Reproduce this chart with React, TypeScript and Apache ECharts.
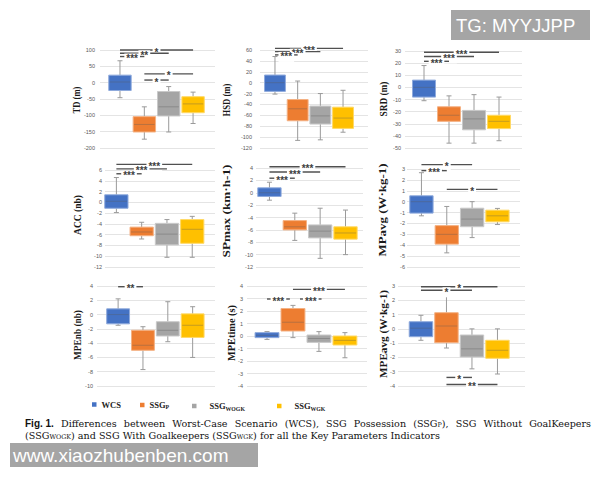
import React, { useEffect, useRef } from 'react';
import * as echarts from 'echarts';

// Groups compared in every panel
const groups = ['WCS', 'SSGP', 'SSGWOGK', 'SSGWGK'];
const legendMain = ['WCS', 'SSG', 'SSG', 'SSG'];
const legendSub = ['', 'P', 'WOGK', 'WGK'];
const groupColors = ['#4472C4', '#ED7D31', '#A5A5A5', '#FFC000'];
const groupEdges = ['#8FAADC', '#F4B183', '#C9C9C9', '#FFD966'];

// Box statistics per group: [min, Q1, median, Q3, max]
const tdBox = [[-46, -24, 2, 23, 67], [-173, -151, -128, -104, -74], [-151, -102, -74, -27, -12], [-125, -92, -65, -43, -29]];
const hsdBox = [[-21, -16, 0, 14, 48], [-106, -70, -48, -31, 3], [-105, -76, -61, -43, -20], [-91, -84, -65, -45, -14]];
const srdBox = [[-11, -8, 0, 6, 18], [-46, -28, -23, -16, -7], [-46, -35, -26, -19, -6], [-44, -34, -28, -23, -8]];
const accBox = [[-1.9, -1.1, 0.2, 1.4, 4.6], [-6.8, -6.2, -5.5, -4.6, -3.7], [-10.2, -7.9, -5.9, -3.9, -3.2], [-10.2, -7.6, -5, -3.2, -2.6]];
const spmaxBox = [[-1.2, -0.6, 0, 0.8, 1.7], [-7.7, -6, -5.5, -4.5, -3.3], [-10.6, -7.3, -6.2, -5.2, -2.5], [-10, -7.5, -6.5, -5.5, -2.8]];
const mpavgBox = [[-1.3, -1.05, 0, 0.54, 2.66], [-4.7, -3.9, -3, -2.2, -0.44], [-3.3, -2.3, -1.6, -0.6, 0], [-2.1, -1.85, -1.3, -0.78, -0.62]];
const mpenbBox = [[-1.5, -1.3, 0, 0.8, 2.2], [-7.7, -5, -4.3, -2.2, -1.7], [-3.8, -3, -2.2, -1, 1.8], [-6, -3.2, -1.5, 0.1, 1.1]];
const mpetimeBox = [[-0.27, -0.13, 0.05, 0.27, 0.35], [-0.13, 0.4, 1.1, 2.2, 2.45], [-1.23, -0.51, -0.2, 0.08, 0.35], [-1.74, -0.72, -0.35, 0, 0.27]];
const mpeavgBox = [[-0.8, -0.55, 0.05, 0.5, 0.95], [-1.34, -0.97, 0.2, 1.13, 2.42], [-2.8, -1.97, -1.4, -0.43, 0], [-3.16, -2.06, -1.5, -0.8, 0]];

// Significance brackets: [from group, to group, y level, stars]
const tdSig: [number, number, number, string][] = [[0, 3, 100, '*'], [0, 2, 90, '**'], [0, 1, 80, '***'], [1, 3, 27, '*'], [1, 2, 8, '*']];
const hsdSig: [number, number, number, string][] = [[0, 3, 63, '***'], [0, 2, 57, '***'], [0, 1, 51, '***']];
const srdSig: [number, number, number, string][] = [[0, 3, 29, '***'], [0, 2, 25.5, '***'], [0, 1, 21.5, '***']];
const accSig: [number, number, number, string][] = [[0, 3, 7.05, '***'], [0, 2, 6.2, '***'], [0, 1, 5.3, '***']];
const spmaxSig: [number, number, number, string][] = [[0, 3, 4.2, '***'], [0, 2, 3.35, '***'], [0, 1, 2.35, '***']];
const mpavgSig: [number, number, number, string][] = [[0, 2, 3.4, '*'], [0, 1, 2.85, '***'], [1, 3, 1.13, '*']];
const mpenbSig: [number, number, number, string][] = [[0, 1, 3.9, '**']];
const mpetimeSig: [number, number, number, string][] = [[1, 3, 3.73, '***'], [0, 0.88, 2.96, '***'], [1.27, 2.1, 2.96, '***']];
const mpeavgSig: [number, number, number, string][] = [[0, 3, 2.95, '*'], [0, 2, 2.7, '*'], [1, 2, -3.4, '*'], [1, 3, -3.9, '**']];

// Axis titles and value ranges
const axisTitles = ['TD (m)', 'HSD (m)', 'SRD (m)', 'ACC (nb)', 'SPmax (km·h-1)', 'MPavg (W·kg-1)', 'MPEnb (nb)', 'MPEtime (s)', 'MPEavg (W·kg-1)'];
const yMins = [-200, -120, -50, -12, -12, -6, -10, -4, -4];
const yMaxs = [100, 60, 30, 6, 4, 3, 4, 4, 3];
const yIntervals = [50, 20, 10, 2, 2, 1, 2, 1, 1];
const boxSets = [tdBox, hsdBox, srdBox, accBox, spmaxBox, mpavgBox, mpenbBox, mpetimeBox, mpeavgBox];
const sigSets = [tdSig, hsdSig, srdSig, accSig, spmaxSig, mpavgSig, mpenbSig, mpetimeSig, mpeavgSig];

// Caption words ("_" starts a subscript)
const captionLine1 = ['Fig. 1.', 'Differences', 'between', 'Worst-Case', 'Scenario', '(WCS),', 'SSG', 'Possession', '(SSG_P),', 'SSG', 'Without', 'GoalKeepers'];
const captionLine2 = ['(SSG_WOGK)', 'and', 'SSG', 'With', 'Goalkeepers', '(SSG_WGK)', 'for', 'all', 'the', 'Key', 'Parameters', 'Indicators'];

// Panel placement (pixels) and horizontal extent of each plot in group units;
// titleLen is the drawn length of the rotated axis title
const panelLayout = [
  { left: 100, width: 115, top: 50, height: 98, xMin: -0.82, xMax: 3.9, labelGap: 5, titleX: 77, titleY: 100, titleLen: 27 },
  { left: 260, width: 108, top: 50, height: 98, xMin: -0.66, xMax: 4.1, labelGap: 8, titleX: 227, titleY: 100, titleLen: 33 },
  { left: 405, width: 117, top: 51, height: 97, xMin: -0.76, xMax: 3.92, labelGap: 4, titleX: 383, titleY: 99, titleLen: 35 },
  { left: 105, width: 110, top: 170, height: 97, xMin: -0.45, xMax: 3.9, labelGap: 3, titleX: 77, titleY: 215, titleLen: 40 },
  { left: 256, width: 107, top: 168, height: 99, xMin: -0.53, xMax: 3.69, labelGap: 3, titleX: 227, titleY: 211, titleLen: 93 },
  { left: 407, width: 113, top: 169, height: 98, xMin: -0.57, xMax: 3.89, labelGap: 2, titleX: 383, titleY: 210, titleLen: 93 },
  { left: 97, width: 118, top: 286, height: 100, xMin: -0.85, xMax: 3.9, labelGap: 4, titleX: 77, titleY: 335, titleLen: 50 },
  { left: 247, width: 120, top: 286, height: 100, xMin: -0.77, xMax: 3.85, labelGap: 4, titleX: 232, titleY: 333, titleLen: 56 },
  { left: 398, width: 127, top: 286, height: 100, xMin: -0.9, xMax: 4.08, labelGap: 3, titleX: 384, titleY: 334, titleLen: 88 },
];
const legendLeft = [92, 140, 192, 277];
const legendTextPad = [0, 0, 8, 8];

const BOX_WIDTH = 0.92;
const TITLE_FONT = 'bold 10px Liberation Serif';
const CAP_FONT = '9.6px DejaVu Serif';
const CAP_SUB_FONT = '6.4px DejaVu Serif';
const CAP_BOLD_FONT = 'bold 10px Liberation Sans';
const CAP_LEFT = 25;
const CAP_RIGHT = 591;

function measure(text: string, font: string): number {
  const ctx = document.createElement('canvas').getContext('2d');
  if (!ctx) return text.length * 4.5;
  ctx.font = font;
  return ctx.measureText(text).width;
}

// Turns a caption word into rich-text markup and reports its width
function captionWord(word: string, bold: boolean): { text: string; width: number } {
  if (bold) return { text: `{b|${word}}`, width: measure(word, CAP_BOLD_FONT) };
  const m = word.match(/^(.*?)_([A-Z]+)(.*)$/);
  if (!m) return { text: `{r|${word}}`, width: measure(word, CAP_FONT) };
  const [, pre, sub, post] = m;
  return {
    text: `{r|${pre}}{s|${sub}}` + (post ? `{r|${post}}` : ''),
    width: measure(pre, CAP_FONT) + measure(sub, CAP_SUB_FONT) + (post ? measure(post, CAP_FONT) : 0),
  };
}

function captionText(words: string[], justify: boolean): { text: string; gap: number } {
  const parts = words.map((w, k) => captionWord(w, k === 0 && w.startsWith('Fig.')));
  const used = parts.reduce((acc, p) => acc + p.width, 0);
  const natural = measure(' ', CAP_FONT);
  const gap = justify ? (CAP_RIGHT - CAP_LEFT - used) / (parts.length - 1) : natural;
  return { text: parts.map((p) => p.text).join('{g|}'), gap };
}

function buildOption(): echarts.EChartsOption {
  const grid: any[] = [];
  const xAxis: any[] = [];
  const yAxis: any[] = [];
  const series: any[] = [];
  const graphic: any[] = [];

  panelLayout.forEach((p, i) => {
    grid.push({ left: p.left, top: p.top, width: p.width, height: p.height, containLabel: false });
    xAxis.push({
      type: 'value', gridIndex: i, min: p.xMin, max: p.xMax,
      show: false, splitLine: { show: false },
    });
    yAxis.push({
      type: 'value', gridIndex: i, min: yMins[i], max: yMaxs[i], interval: yIntervals[i],
      axisLine: { show: false }, axisTick: { show: false },
      splitLine: { lineStyle: { color: '#e4e4e4', width: 1 } },
      axisLabel: { fontSize: 5.5, color: '#595959', margin: p.labelGap, fontFamily: 'Liberation Sans' },
    });

    // rotated axis title, stretched along its reading direction
    const natural = measure(axisTitles[i], TITLE_FONT);
    graphic.push({
      type: 'text', x: p.titleX, y: p.titleY, rotation: Math.PI / 2,
      scaleX: p.titleLen / natural, scaleY: 1,
      style: { text: axisTitles[i], font: TITLE_FONT, fill: '#1a1a1a', align: 'center', verticalAlign: 'middle' },
    });

    groups.forEach((g, gi) => {
      const s = boxSets[i][gi];
      series.push({
        type: 'custom', name: g, xAxisIndex: i, yAxisIndex: i,
        itemStyle: { color: groupColors[gi] },
        data: [[gi, ...s]],
        renderItem: (_params: any, api: any) => {
          const x = api.value(0);
          const vMin = api.coord([x, api.value(1)]);
          const vQ1 = api.coord([x, api.value(2)]);
          const vMed = api.coord([x, api.value(3)]);
          const vQ3 = api.coord([x, api.value(4)]);
          const vMax = api.coord([x, api.value(5)]);
          const w = api.size([BOX_WIDTH, 0])[0];
          const cx = vMin[0];
          const cap = 2.5;
          const whisker = { stroke: '#9a9a9a', lineWidth: 1 };
          return {
            type: 'group',
            children: [
              { type: 'line', shape: { x1: cx, y1: vMax[1], x2: cx, y2: vQ3[1] }, style: whisker },
              { type: 'line', shape: { x1: cx, y1: vQ1[1], x2: cx, y2: vMin[1] }, style: whisker },
              { type: 'line', shape: { x1: cx - cap, y1: vMax[1], x2: cx + cap, y2: vMax[1] }, style: whisker },
              { type: 'line', shape: { x1: cx - cap, y1: vMin[1], x2: cx + cap, y2: vMin[1] }, style: whisker },
              {
                type: 'rect',
                shape: { x: cx - w / 2, y: vQ3[1], width: w, height: vQ1[1] - vQ3[1] },
                style: { fill: groupColors[gi], stroke: groupEdges[gi], lineWidth: 1 },
              },
              {
                type: 'line', shape: { x1: cx - w / 2 + 1, y1: vMed[1], x2: cx + w / 2 - 1, y2: vMed[1] },
                style: { stroke: 'rgba(90,90,90,0.35)', lineWidth: 1 },
              },
            ],
          };
        },
      });
    });

    const sig = sigSets[i];
    series.push({
      type: 'custom', name: 'sig' + i, xAxisIndex: i, yAxisIndex: i, silent: true,
      data: sig.map((d) => [d[0], d[1], d[2]]),
      renderItem: (params: any, api: any) => {
        const a = api.coord([api.value(0), api.value(2)]);
        const b = api.coord([api.value(1), api.value(2)]);
        const label = sig[params.dataIndex][3];
        return {
          type: 'group',
          children: [
            { type: 'line', shape: { x1: a[0], y1: a[1], x2: b[0], y2: b[1] }, style: { stroke: '#505050', lineWidth: 1.4 } },
            {
              type: 'text', x: (a[0] + b[0]) / 2, y: a[1] + 2,
              style: {
                text: label, fill: '#404040', font: 'bold 10px Liberation Sans',
                align: 'center', verticalAlign: 'middle', backgroundColor: '#ffffff', padding: [0, 2],
              },
            },
          ],
        };
      },
    });
  });

  const rich = {
    m: { fontFamily: 'Liberation Serif', fontWeight: 'bold', fontSize: 8.5, color: '#222', lineHeight: 10 },
    s: { fontFamily: 'Liberation Serif', fontWeight: 'bold', fontSize: 5.8, color: '#222', lineHeight: 10, verticalAlign: 'bottom', padding: [4, 0, 0, 0] },
  };

  const legend = groups.map((g, gi) => ({
    data: [g], left: legendLeft[gi], top: 400, icon: 'rect', itemWidth: 4.5, itemHeight: 4.5,
    selectedMode: false, padding: 0,
    formatter: () => {
      const pad = legendTextPad[gi] ? `{p|}` : '';
      return pad + `{m|${legendMain[gi]}}` + (legendSub[gi] ? `{s|${legendSub[gi]}}` : '');
    },
    textStyle: { rich: { ...rich, p: { width: legendTextPad[gi] } } },
  }));

  const cap1 = captionText(captionLine1, true);
  const cap2 = captionText(captionLine2, false);
  const capRich = (gap: number) => ({
    r: { font: CAP_FONT, fill: '#111' },
    b: { font: CAP_BOLD_FONT, fill: '#111' },
    s: { font: CAP_SUB_FONT, fill: '#111', verticalAlign: 'bottom', lineHeight: 10 },
    g: { width: gap },
  });

  graphic.push(
    { type: 'text', left: CAP_LEFT, top: 418, style: { text: cap1.text, rich: capRich(cap1.gap), font: CAP_FONT } },
    { type: 'text', left: CAP_LEFT, top: 430, style: { text: cap2.text, rich: capRich(cap2.gap), font: CAP_FONT } },
    { type: 'rect', shape: { x: 451, y: 10, width: 139, height: 30 }, style: { fill: '#a5a5a5' } },
    { type: 'text', x: 456, y: 25, style: { text: 'TG: MYYJJPP', font: '18.5px Liberation Sans', fill: '#ffffff', verticalAlign: 'middle' } },
    { type: 'rect', shape: { x: 10, y: 443, width: 248, height: 24 }, style: { fill: '#a5a5a5' } },
    { type: 'text', x: 13, y: 455, style: { text: 'www.xiaozhubenben.com', font: '19px Liberation Sans', fill: '#ffffff', verticalAlign: 'middle' } },
  );

  return { animation: false, backgroundColor: '#ffffff', grid, xAxis, yAxis, series, legend, graphic };
}

export default function App() {
  const ref = useRef<HTMLDivElement>(null);
  useEffect(() => {
    if (!ref.current) return;
    const chart = echarts.init(ref.current, undefined, { renderer: 'svg' });
    chart.setOption(buildOption());
    return () => chart.dispose();
  }, []);
  return <div ref={ref} style={{ position: 'fixed', left: 0, top: 0, width: 600, height: 480 }} />;
}
